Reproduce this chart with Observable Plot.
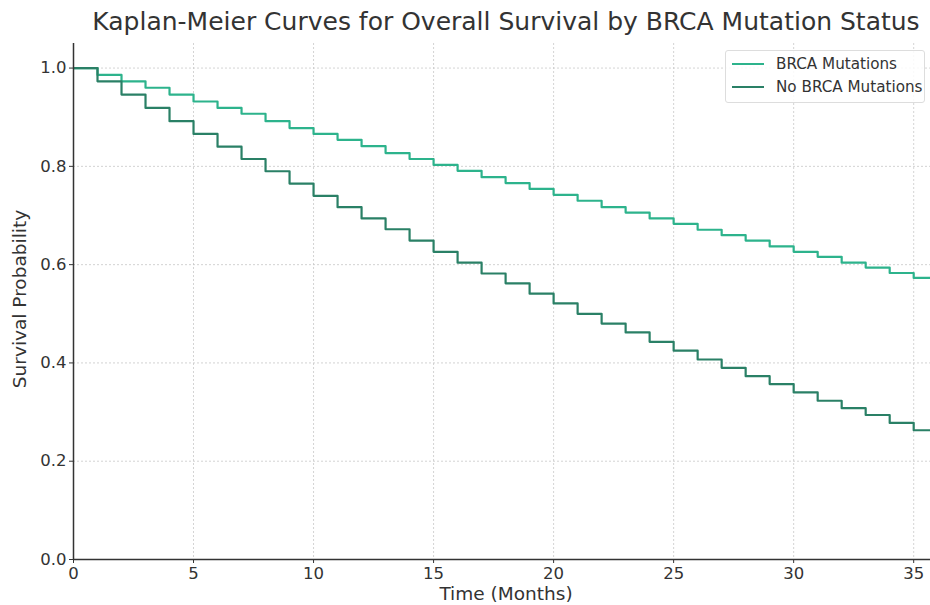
<!DOCTYPE html>
<html>
<head>
<meta charset="utf-8">
<script src="https://cdn.jsdelivr.net/npm/d3@7"></script>
<script src="https://cdn.jsdelivr.net/npm/@observablehq/plot@0.6"></script>
<style>
  html, body { margin: 0; padding: 0; background: #fff; }
  #wrap { position: relative; width: 930px; height: 605px; overflow: hidden; font-family: "DejaVu Sans", sans-serif; color: #333; }
  #title { position: absolute; left: 0; width: 1012px; top: 7px; text-align: center; font-size: 25px; line-height: 30px; color: #333; white-space: nowrap; }
  #xlabel { position: absolute; left: 0; width: 1012px; top: 583px; text-align: center; font-size: 18.5px; line-height: 22px; color: #333; white-space: nowrap; }
  #ylabel { position: absolute; left: 20px; top: 299px; transform: translate(-50%, -50%) rotate(-90deg); font-size: 18.5px; line-height: 22px; color: #333; white-space: nowrap; }
  #legend { position: absolute; left: 725px; top: 50px; width: 200px; height: 53px; border: 1px solid #ddd; border-radius: 3px; background: rgba(255,255,255,0.85); box-sizing: border-box; }
  .item { position: absolute; left: 6px; height: 20px; display: flex; align-items: center; font-size: 15.2px; color: #333; white-space: nowrap; }
  .swatch { width: 32px; height: 0; border-top: 2.5px solid; margin-right: 12px; }
  svg { position: absolute; left: 0; top: 0; }
</style>
</head>
<body>
<div id="wrap">
  <div id="chart"></div>
  <div id="title"></div>
  <div id="xlabel"></div>
  <div id="ylabel"></div>
  <div id="legend"></div>
</div>
<script>
const titleText = "Kaplan-Meier Curves for Overall Survival by BRCA Mutation Status";
const xLabel = "Time (Months)";
const yLabel = "Survival Probability";
const seriesNames = ["BRCA Mutations", "No BRCA Mutations"];
const seriesColors = ["#2db38c", "#2a8066"];

const months = [0,1,2,3,4,5,6,7,8,9,10,11,12,13,14,15,16,17,18,19,20,21,22,23,24,25,26,27,28,29,30,31,32,33,34,35,36];
const brca = [1.000,0.986,0.973,0.960,0.946,0.932,0.919,0.907,0.892,0.878,0.866,0.854,0.841,0.827,0.815,0.803,0.791,0.778,0.766,0.754,0.742,0.730,0.717,0.706,0.694,0.683,0.671,0.660,0.649,0.637,0.626,0.616,0.604,0.594,0.583,0.573,0.573];
const noBrca = [1.000,0.973,0.946,0.919,0.892,0.866,0.840,0.815,0.790,0.765,0.740,0.717,0.694,0.672,0.649,0.626,0.604,0.582,0.562,0.541,0.521,0.500,0.480,0.462,0.443,0.425,0.407,0.390,0.373,0.357,0.340,0.323,0.308,0.294,0.278,0.263,0.263];

const xTicks = [0,5,10,15,20,25,30,35];
const yTicks = [0,0.2,0.4,0.6,0.8,1.0];

const rows = [];
months.forEach((m, i) => {
  rows.push({month: m, p: brca[i], group: seriesNames[0]});
  rows.push({month: m, p: noBrca[i], group: seriesNames[1]});
});

const plot = Plot.plot({
  width: 930,
  height: 605,
  marginTop: 43,
  marginBottom: 46,
  marginLeft: 73,
  marginRight: 0,
  style: {fontFamily: "DejaVu Sans, sans-serif", fontSize: "16px", color: "#333", background: "white"},
  x: {domain: [0, 35.7]},
  y: {domain: [0, 1.05]},
  color: {domain: seriesNames, range: seriesColors},
  marks: [
    Plot.gridX(xTicks, {stroke: "#c8c8c8", strokeOpacity: 1, strokeDasharray: "2,2", strokeWidth: 0.8}),
    Plot.gridY(yTicks, {stroke: "#c8c8c8", strokeOpacity: 1, strokeDasharray: "2,2", strokeWidth: 0.8}),
    Plot.line(rows, {x: "month", y: "p", z: "group", stroke: "group", curve: "step-after", strokeWidth: 2.2, clip: true}),
    Plot.axisX(xTicks, {label: null, tickSize: 4, tickPadding: 4, stroke: "#333", fill: "#333", fontSize: 16.5}),
    Plot.axisY(yTicks, {label: null, tickSize: 4, tickPadding: 3, tickFormat: d3.format(".1f"), stroke: "#333", fill: "#333", fontSize: 16.5}),
    Plot.ruleX([0], {stroke: "#333", strokeWidth: 1.5}),
    Plot.ruleY([0], {stroke: "#333", strokeWidth: 1.5})
  ]
});
document.getElementById("chart").appendChild(plot);

document.getElementById("title").textContent = titleText;
document.getElementById("xlabel").textContent = xLabel;
document.getElementById("ylabel").textContent = yLabel;

const legend = document.getElementById("legend");
seriesNames.forEach((name, i) => {
  const item = document.createElement("div");
  item.className = "item";
  item.style.top = (3 + i * 23) + "px";
  const sw = document.createElement("span");
  sw.className = "swatch";
  sw.style.borderColor = seriesColors[i];
  const t = document.createElement("span");
  t.textContent = name;
  item.appendChild(sw);
  item.appendChild(t);
  legend.appendChild(item);
});
</script>
</body>
</html>
